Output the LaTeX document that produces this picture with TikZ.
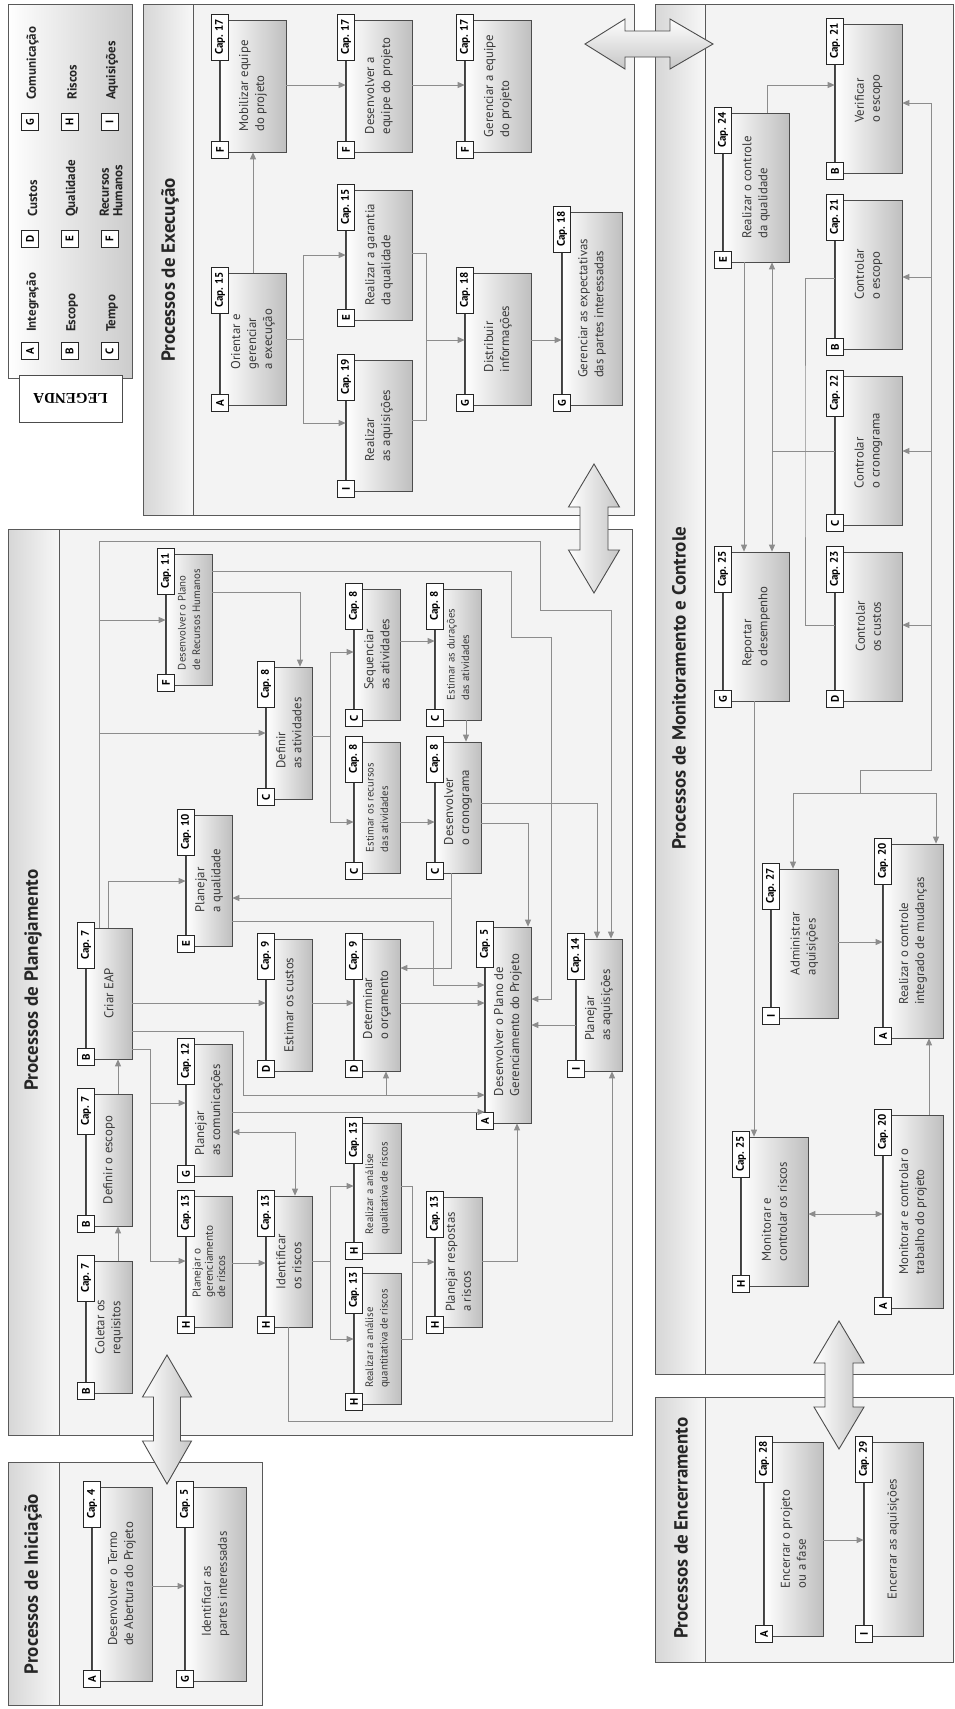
\documentclass[tikz,border=0pt]{standalone}
\usepackage{fontspec}
\setmainfont{PT Sans}
\newfontfamily\legfont{Liberation Serif}
\usetikzlibrary{arrows.meta}
\definecolor{panelbg}{HTML}{F3F3F3}
\definecolor{conncol}{HTML}{8C8C8C}
\definecolor{txtcol}{HTML}{3A3A3A}
\newcommand{\fA}{\fontsize{12.8}{16}\selectfont}
\newcommand{\fB}{\fontsize{10.8}{14.5}\selectfont}
\newcommand{\fC}{\fontsize{11.3}{12.3}\selectfont}
\tikzset{
  procbox/.style={draw=black!70, line width=0.7pt, inner sep=0pt, align=left, text=txtcol},
  procedge/.style={draw=black!75, line width=0.8pt},
  capbox/.style={draw=black!85, fill=white, line width=0.8pt, inner sep=0pt, minimum width=46, minimum height=17, font=\bfseries\fontsize{11}{11}\selectfont},
  letbox/.style={draw=black!85, fill=white, line width=0.8pt, inner sep=0pt, minimum width=17, minimum height=17, font=\bfseries\fontsize{11}{11}\selectfont},
  conn/.style={draw=conncol, line width=0.8pt, -{Triangle[length=7pt,width=6pt]}},
  cline/.style={draw=conncol, line width=0.8pt},
  dconn/.style={draw=conncol, line width=0.8pt, {Triangle[length=7pt,width=6pt]}-{Triangle[length=7pt,width=6pt]}},
  heading/.style={rotate=90, font=\bfseries\fontsize{19}{19}\selectfont, text=black!85, inner sep=0pt},
  legtxt/.style={rotate=90, font=\bfseries\fontsize{13}{13.5}\selectfont, inner sep=0pt, align=left, text=black!85},
  bigarrow/.style={draw=black!70, line width=0.9pt},
}
% optional font, name, x1, y1, x2, y2, letter, cap, text
\newcommand{\mkproc}[9][\fA]{%
  \shade[left color=white, right color=gray!50] (#3,#4) rectangle (#5,#6);
  \node[procbox, font=#1, rotate=90, minimum width={(#6)-(#4)}, minimum height={(#5)-(#3)}] (#2) at ({((#3)+(#5))/2},{((#4)+(#6))/2}) {#9};
  \draw[procedge] (#2.north west) -- (#2.north east);
  \node[capbox, rotate=90] (#2-c) at (#3,{(#4)+17}) {Cap.~#8};
  \node[letbox, rotate=90] (#2-l) at (#3,{(#6)-2}) {#7};
}
\newcommand{\mkpanel}[5]{%
  \fill[panelbg] (#1,#2) rectangle (#3,#4);
  \shade[left color=gray!32, right color=gray!6] (#1,#2) rectangle (#5,#4);
  \draw[black!65, line width=1pt] (#1,#2) rectangle (#3,#4) (#5,#2) -- (#5,#4);
}
% cx, t1, b1, b2, t2, hw, sw
\newcommand{\dblv}[7]{%
  \shadedraw[bigarrow, left color=white, right color=gray!45] (#1,#2) -- ({#1+#6},#3) -- ({#1+#7},#3) -- ({#1+#7},#4) -- ({#1+#6},#4) -- (#1,#5) -- ({#1-#6},#4) -- ({#1-#7},#4) -- ({#1-#7},#3) -- ({#1-#6},#3) -- cycle;
}
\begin{document}
\begin{tikzpicture}[x=1pt,y=-1pt]
\useasboundingbox (0,0) rectangle (954,1709);
\fill[white] (0,0) rectangle (954,1709);

% ---------- Legend
\shadedraw[left color=white, right color=gray!40, draw=black!65, line width=1pt] (8,4) rectangle (132,378);
\node[draw=black!70, line width=1pt, fill=white, rotate=180, minimum width=103, minimum height=47, inner sep=0pt, font=\legfont\bfseries\fontsize{15}{15}\selectfont] (legtab) at (70.5,398.5) {LEGENDA};
\node[letbox, rotate=90] (lgA) at (30,351) {A};
\node[legtxt, anchor=west] (lgAt) at (32.5,332) {Integração};
\node[letbox, rotate=90] (lgB) at (69.5,351) {B};
\node[legtxt, anchor=west] (lgBt) at (72,332) {Escopo};
\node[letbox, rotate=90] (lgC) at (109.5,351) {C};
\node[legtxt, anchor=west] (lgCt) at (112,332) {Tempo};
\node[letbox, rotate=90] (lgD) at (30,239) {D};
\node[legtxt, anchor=west] (lgDt) at (32.5,217) {Custos};
\node[letbox, rotate=90] (lgE) at (69.5,239) {E};
\node[legtxt, anchor=west] (lgEt) at (72,217) {Qualidade};
\node[letbox, rotate=90] (lgF) at (109.5,239) {F};
\node[legtxt, anchor=west] (lgFt) at (111,217) {Recursos\\Humanos};
\node[letbox, rotate=90] (lgG) at (30,122) {G};
\node[legtxt, anchor=west] (lgGt) at (32.5,100) {Comunicação};
\node[letbox, rotate=90] (lgH) at (69.5,122) {H};
\node[legtxt, anchor=west] (lgHt) at (72,100) {Riscos};
\node[letbox, rotate=90] (lgI) at (109.5,122) {I};
\node[legtxt, anchor=west] (lgIt) at (112,100) {Aquisições};

% ---------- Panels
\mkpanel{143}{4}{634}{515}{193}
\mkpanel{8}{529}{632}{1435}{59}
\mkpanel{8}{1462}{262}{1705}{59}
\mkpanel{655}{4}{953}{1374}{705}
\mkpanel{655}{1397}{953}{1662}{705}
\node[heading] (hexec) at (170,270) {Processos de Execução};
\node[heading] (hplan) at (33,980) {Processos de Planejamento};
\node[heading] (hinic) at (33,1584) {Processos de Iniciação};
\node[heading] (hmon) at (679,688) {Processos de Monitoramento e Controle};
\node[heading] (henc) at (681,1528) {Processos de Encerramento};

% ---------- Big double arrows
\shadedraw[bigarrow, top color=white, bottom color=gray!45] (585,44) -- (625,19) -- (625,31) -- (670,31) -- (670,19) -- (713,44) -- (670,69) -- (670,57) -- (625,57) -- (625,69) -- cycle;
\dblv{594}{464}{507}{550}{593}{25.5}{14}
\dblv{167}{1355}{1397}{1441}{1484}{24.5}{13.5}
\dblv{839}{1321}{1363}{1407}{1449}{25}{14}

% ---------- Execucao
\mkproc{mob}{220}{20}{286}{152}{F}{17}{Mobilizar equipe\\do projeto}
\mkproc{deseq}{346}{20}{412}{152}{F}{17}{Desenvolver a\\equipe do projeto}
\mkproc{gereq}{465}{20}{531}{152}{F}{17}{Gerenciar a equipe\\do projeto}
\mkproc{orient}{220}{273}{286}{405}{A}{15}{Orientar e\\gerenciar\\a execução}
\mkproc{garant}{346}{190}{412}{320}{E}{15}{Realizar a garantia\\da qualidade}
\mkproc{distr}{465}{273}{531}{405}{G}{18}{Distribuir\\informações}
\mkproc{expect}{562}{212}{622}{405}{G}{18}{Gerenciar as expectativas\\das partes interessadas}
\mkproc{raqu}{346}{360}{412}{491}{I}{19}{Realizar\\as aquisições}

% ---------- Planejamento
\mkproc{eap}{86}{928}{132}{1059}{B}{7}{Criar EAP}
\mkproc{escopo}{86}{1094}{132}{1226}{B}{7}{Definir o escopo}
\mkproc{colet}{86}{1261}{132}{1393}{B}{7}{Coletar os\\requisitos}
\mkproc[\fB]{rh}{166}{554}{212}{685}{F}{11}{Desenvolver o Plano\\de Recursos Humanos}
\mkproc{qual}{186}{815}{232}{946}{E}{10}{Planejar\\a qualidade}
\mkproc{comun}{186}{1044}{232}{1176}{G}{12}{Planejar\\as comunicações}
\mkproc[\fC]{pgr}{186}{1196}{232}{1327}{H}{13}{Planejar o\\gerenciamento\\de riscos}
\mkproc{defat}{266}{667}{312}{799}{C}{8}{Definir\\as atividades}
\mkproc{custos}{266}{939}{312}{1071}{D}{9}{Estimar os custos}
\mkproc{ident}{266}{1196}{312}{1327}{H}{13}{Identificar\\os riscos}
\mkproc{seq}{354}{589}{400}{720}{C}{8}{Sequenciar\\as atividades}
\mkproc[\fB]{recur}{354}{742}{400}{873}{C}{8}{Estimar os recursos\\das atividades}
\mkproc{orc}{354}{939}{400}{1071}{D}{9}{Determinar\\o orçamento}
\mkproc[\fB]{quali}{354}{1123}{401}{1253}{H}{13}{Realizar a análise\\qualitativa de riscos}
\mkproc[\fB]{quant}{354}{1273}{401}{1404}{H}{13}{Realizar a análise\\quantitativa de riscos}
\mkproc[\fB]{dur}{435}{589}{481}{720}{C}{8}{Estimar as durações\\das atividades}
\mkproc{crono}{435}{742}{481}{873}{C}{8}{Desenvolver\\o cronograma}
\mkproc{resp}{435}{1197}{482}{1327}{H}{13}{Planejar respostas\\a riscos}
\mkproc{pgp}{485}{927}{531}{1123}{A}{5}{Desenvolver o Plano de\\Gerenciamento do Projeto}
\mkproc{paq}{576}{939}{622}{1071}{I}{14}{Planejar\\as aquisições}

% ---------- Iniciacao
\mkproc{termo}{92}{1487}{152}{1681}{A}{4}{Desenvolver o Termo\\de Abertura do Projeto}
\mkproc{partes}{185}{1487}{246}{1681}{G}{5}{Identificar as\\partes interessadas}

% ---------- Monitoramento
\mkproc{cq}{723}{113}{789}{262}{E}{24}{Realizar o controle\\da qualidade}
\mkproc{verif}{835}{24}{902}{173}{B}{21}{Verificar\\o escopo}
\mkproc{cesc}{835}{200}{902}{349}{B}{21}{Controlar\\o escopo}
\mkproc{ccro}{835}{376}{902}{525}{C}{22}{Controlar\\o cronograma}
\mkproc{ccus}{835}{552}{902}{701}{D}{23}{Controlar\\os custos}
\mkproc{rep}{723}{552}{789}{701}{G}{25}{Reportar\\o desempenho}
\mkproc{adm}{771}{869}{838}{1018}{I}{27}{Administrar\\aquisições}
\mkproc{cim}{883}{844}{943}{1038}{A}{20}{Realizar o controle\\integrado de mudanças}
\mkproc{mrisc}{741}{1137}{808}{1286}{H}{25}{Monitorar e\\controlar os riscos}
\mkproc{mtrab}{883}{1115}{943}{1308}{A}{20}{Monitorar e controlar o\\trabalho do projeto}

% ---------- Encerramento
\mkproc{encp}{764}{1442}{823}{1636}{A}{28}{Encerrar o projeto\\ou a fase}
\mkproc{encaq}{864}{1442}{923}{1636}{I}{29}{Encerrar as aquisições}

% ========== Connectors: Execucao
\draw[conn] (orient.east -| 253,0) -- (mob.west -| 253,0);
\draw[conn] (mob.south |- 0,85) -- (deseq.north |- 0,85);
\draw[conn] (deseq.south |- 0,85) -- (gereq.north |- 0,85);
\coordinate (j1) at (303,339);
\draw[cline] (orient.south |- 0,339) -- (j1);
\draw[conn] (j1) |- (garant.north |- 0,255);
\draw[conn] (j1) |- (raqu.north |- 0,423);
\coordinate (j2) at (426,340);
\draw[cline] (garant.south |- 0,253) -| (j2);
\draw[cline] (raqu.south |- 0,420) -| (j2);
\draw[conn] (j2) -- (distr.north |- 0,340);
\draw[conn] (distr.south |- 0,340) -- (expect.north |- 0,340);

% ========== Connectors: Planejamento
\draw[conn] (colet.east -| 118,0) -- (escopo.west -| 118,0);
\draw[conn] (escopo.east -| 118,0) -- (eap.west -| 118,0);
\draw[conn] (eap.south |- 0,1003) -- (custos.north |- 0,1003);
\draw[conn] (eap.east -| 108,0) |- (qual.north |- 0,881);
\draw[conn] (eap.east -| 99,0) |- (rh.north |- 0,620);
\draw[conn] (eap.east -| 99,0) |- (defat.north |- 0,733);
\draw[conn] (eap.east -| 99,0) |- (540,541) |- (611,610) -- (paq.east -| 611,0);
\draw[conn] (rh.south |- 0,592) -| (defat.east -| 300,0);
\draw[conn] (rh.south |- 0,571) -| (511,637) -| (551,999) -- (pgp.south |- 0,999);
\coordinate (j3) at (330,736);
\draw[cline] (defat.south |- 0,736) -- (j3);
\draw[conn] (j3) |- (seq.north |- 0,652);
\draw[conn] (j3) |- (recur.north |- 0,822);
\draw[conn] (seq.south |- 0,641) -- (dur.north |- 0,641);
\draw[conn] (recur.south |- 0,822) -- (crono.north |- 0,822);
\draw[conn] (dur.west -| 466,0) -- (crono.east -| 466,0);
\draw[conn] (crono.west -| 451,0) |- (qual.south |- 0,898);
\draw[conn] (crono.west -| 451,0) |- (orc.south |- 0,968);
\draw[conn] (crono.south |- 0,823) -| (pgp.east -| 528,0);
\draw[conn] (crono.south |- 0,803) -| (paq.east -| 597,0);
\draw[conn] (qual.south |- 0,921) -| (433,985) -- (pgp.north |- 0,985);
\draw[conn] (custos.south |- 0,1003) -- (orc.north |- 0,1003);
\draw[conn] (orc.south |- 0,1003) -- (pgp.north |- 0,1003);
\coordinate (j4) at (243,1095);
\draw[conn] (eap.south |- 0,1031) -| (j4) -- (pgp.north |- 0,1095);
\draw[conn] (j4) -| (orc.west -| 386,0);
\draw[conn] (comun.south |- 0,1112) -- (pgp.north |- 0,1112);
\coordinate (j5) at (150,1049);
\draw[cline] (eap.south |- 0,1049) -- (j5);
\draw[conn] (j5) |- (comun.north |- 0,1103);
\draw[conn] (j5) |- (pgr.north |- 0,1261);
\draw[dconn] (comun.south |- 0,1132) -| (ident.east -| 295,0);
\draw[conn] (pgr.south |- 0,1263) -- (ident.north |- 0,1263);
\coordinate (j6) at (330,1261);
\draw[cline] (ident.south |- 0,1261) -- (j6);
\draw[conn] (j6) |- (quali.north |- 0,1186);
\draw[conn] (j6) |- (quant.north |- 0,1339);
\coordinate (j7) at (412,1262);
\draw[cline] (quali.south |- 0,1186) -| (j7);
\draw[cline] (quant.south |- 0,1339) -| (j7);
\draw[conn] (j7) -- (resp.north |- 0,1262);
\draw[conn] (resp.south |- 0,1261) -| (pgp.west -| 517,0);
\draw[conn] (paq.north |- 0,1025) -- (pgp.south |- 0,1025);
\draw[conn] (ident.west -| 288,0) |- (612,1421) -- (paq.west -| 612,0);

% ========== Connectors: Iniciacao
\draw[conn] (termo.south |- 0,1586) -- (partes.north |- 0,1586);

% ========== Connectors: Monitoramento
\draw[conn] (cq.east -| 767,0) |- (verif.north |- 0,85);
\coordinate (m1) at (931,103);
\coordinate (m2) at (931,770);
\coordinate (m3) at (860,770);
\coordinate (m4) at (860,793);
\coordinate (m5) at (793,793);
\coordinate (m6) at (936,793);
\draw[cline] (m1) -- (m2) -- (m3) -- (m4);
\draw[cline] (m5) -- (m6);
\draw[conn] (m1) -- (verif.south |- m1);
\draw[conn] (m2 |- 0,277) -- (cesc.south |- 0,277);
\draw[conn] (m2 |- 0,451) -- (ccro.south |- 0,451);
\draw[conn] (m2 |- 0,625) -- (ccus.south |- 0,625);
\draw[conn] (m6) -- (cim.east -| m6);
\draw[conn] (m5) -- (adm.east -| m5);
\coordinate (m7) at (805,451);
\coordinate (m8) at (772,451);
\draw[cline] (cesc.north |- 0,278) -| (m7) |- (ccus.north |- 0,625);
\draw[cline] (ccro.north |- 0,451) -- (m8);
\draw[conn] (m8) -- (cq.west -| m8);
\draw[conn] (m8) -- (rep.east -| m8);
\draw[conn] (cq.west -| 744,0) -- (rep.east -| 744,0);
\draw[conn] (rep.west -| 754,0) -- (mrisc.east -| 754,0);
\draw[conn] (adm.south |- 0,942) -- (cim.north |- 0,942);
\draw[dconn] (mrisc.south |- 0,1214) -- (mtrab.north |- 0,1214);
\draw[conn] (mtrab.east -| 929,0) -- (cim.west -| 929,0);

% ========== Connectors: Encerramento
\draw[conn] (encp.south |- 0,1540) -- (encaq.north |- 0,1540);
\end{tikzpicture}
\end{document}
